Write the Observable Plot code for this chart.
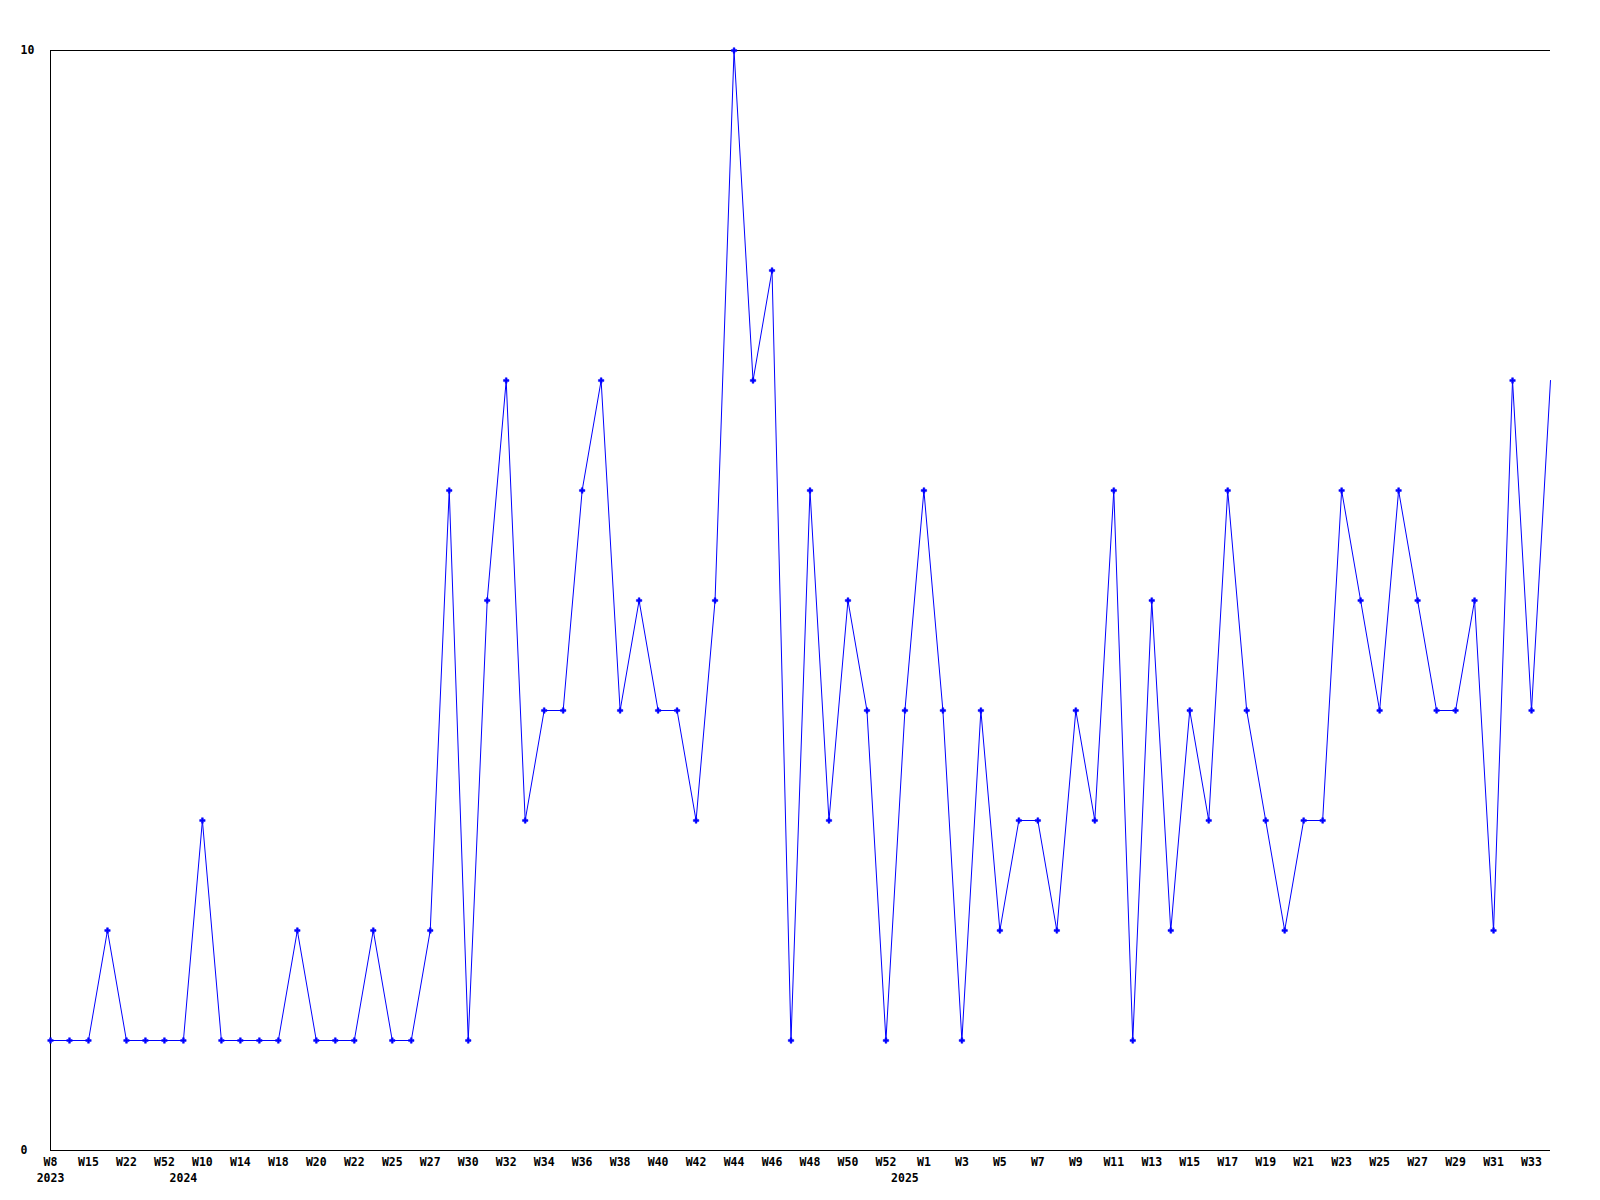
<!DOCTYPE html>
<html>
<head>
<meta charset="utf-8">
<script src="https://cdn.jsdelivr.net/npm/d3@7"></script>
<script src="https://cdn.jsdelivr.net/npm/@observablehq/plot@0.6"></script>
<style>
  html, body { margin: 0; padding: 0; background: #fff; }
  #chart svg { display: block; }
</style>
</head>
<body>
<div id="chart"></div>
<script>
// Week labels (one per point)
const weeks = [
  "W8","W11","W15","W18","W22","W36","W52","W1","W10","W12",
  "W14","W16","W18","W19","W20","W21","W22","W24","W25","W26",
  "W27","W29","W30","W31","W32","W33","W34","W35","W36","W37",
  "W38","W39","W40","W41","W42","W43","W44","W45","W46","W47",
  "W48","W49","W50","W51","W52","W0","W1","W2","W3","W4",
  "W5","W6","W7","W8","W9","W10","W11","W12","W13","W14",
  "W15","W16","W17","W18","W19","W20","W21","W22","W23","W24",
  "W25","W26","W27","W28","W29","W30","W31","W32","W33","W34"
];
// Year of each point
const years = [
  2023,2023,2023,2023,2023,2023,2023,2024,2024,2024,
  2024,2024,2024,2024,2024,2024,2024,2024,2024,2024,
  2024,2024,2024,2024,2024,2024,2024,2024,2024,2024,
  2024,2024,2024,2024,2024,2024,2024,2024,2024,2024,
  2024,2024,2024,2024,2024,2025,2025,2025,2025,2025,
  2025,2025,2025,2025,2025,2025,2025,2025,2025,2025,
  2025,2025,2025,2025,2025,2025,2025,2025,2025,2025,
  2025,2025,2025,2025,2025,2025,2025,2025,2025,2025
];
// Series values
const values = [
  1,1,1,2,1,1,1,1,3,1,
  1,1,1,2,1,1,1,2,1,1,
  2,6,1,5,7,3,4,4,6,7,
  4,5,4,4,3,5,10,7,8,1,
  6,3,5,4,1,4,6,4,1,4,
  2,3,3,2,4,3,6,1,5,2,
  4,3,6,4,3,2,3,3,6,5,
  4,6,5,4,4,5,2,7,4,7
];
const yTicks = [0, 10];

const idx = d3.range(values.length);
const labeledIdx = idx.filter(i => i % 2 === 0);
const yearStart = idx.filter(i => i === 0 || years[i] !== years[i - 1]);
const markerIdx = idx.slice(0, -1);

const font = "'DejaVu Sans Mono', monospace";

const chart = Plot.plot({
  width: 1600,
  height: 1200,
  marginLeft: 50,
  marginRight: 50,
  marginTop: 50,
  marginBottom: 50,
  style: { fontFamily: font, fontSize: "11.5px", fontWeight: "bold", color: "#000", background: "#fff" },
  x: { type: "linear", domain: [0, values.length - 1], axis: null },
  y: { domain: [0, 10], axis: null },
  marks: [
    Plot.ruleY(yTicks, { stroke: "#000", strokeWidth: 1 }),
    Plot.ruleX([0], { y1: 0, y2: 10, stroke: "#000", strokeWidth: 1 }),
    Plot.line(idx, { x: i => i, y: i => values[i], stroke: "#0000ff", strokeWidth: 1 }),
    Plot.dot(markerIdx, { x: i => i, y: i => values[i], symbol: "cross", r: 2.3, fill: "#0000ff", stroke: "#0000ff", strokeWidth: 0.5 }),
    Plot.text(yTicks, { y: d => d, text: d => String(d), frameAnchor: "left", dx: -30, textAnchor: "start", fill: "#000" }),
    Plot.text(labeledIdx, { x: i => i, y: 0, text: i => weeks[i], dy: 12, fill: "#000" }),
    Plot.text(yearStart, { x: i => i, y: 0, text: i => String(years[i]), dy: 28, fill: "#000" })
  ]
});
document.getElementById("chart").appendChild(chart);
</script>
</body>
</html>
